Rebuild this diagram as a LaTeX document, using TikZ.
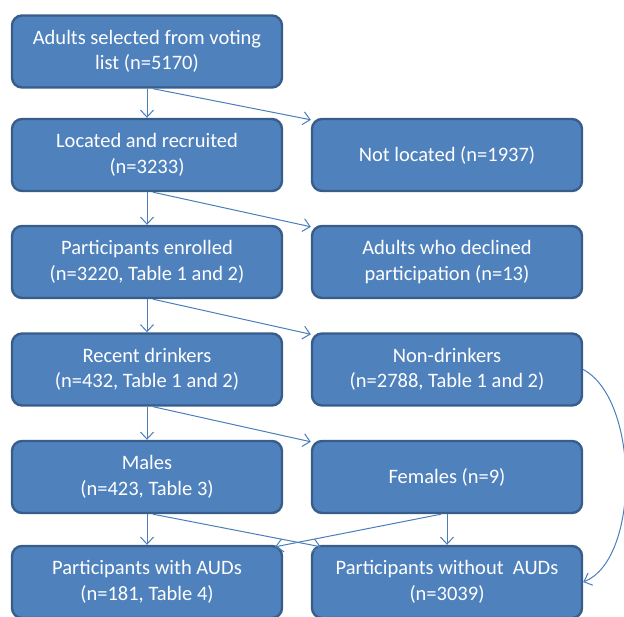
\documentclass[tikz,border=0pt]{standalone}
\usepackage{fontspec}
\setmainfont{Carlito}
\usetikzlibrary{arrows.meta,calc}
\definecolor{boxfill}{HTML}{4F81BD}
\definecolor{boxline}{HTML}{385D8A}
\definecolor{arrowc}{HTML}{4A7EBB}
\begin{document}
\begin{tikzpicture}[x=1pt,y=-1pt,
  box/.style={draw=boxline,fill=boxfill,line width=2.4pt,rounded corners=10pt,
    minimum width=270pt,minimum height=72pt,text=white,align=center,
    font=\fontsize{20.5}{25.5}\selectfont,inner sep=0pt},
  arr/.style={draw=arrowc,line width=1pt,-{Straight Barb[length=7pt,width=13pt]}}]
\useasboundingbox (0,0) rectangle (624,617);
\node[box] (a) at (147,51.5) {Adults selected from voting\\list (n=5170)};
\node[box] (b) at (147,155) {Located and recruited\\(n=3233)};
\node[box] (c) at (447,155) {Not located (n=1937)};
\node[box] (d) at (147,262) {Participants enrolled\\(n=3220, Table 1 and 2)};
\node[box] (e) at (447,262) {Adults who declined\\participation (n=13)};
\node[box] (f) at (147,369.5) {Recent drinkers\\(n=432, Table 1 and 2)};
\node[box] (g) at (447,369.5) {Non-drinkers\\(n=2788, Table 1 and 2)};
\node[box] (h) at (147,477) {Males\\(n=423, Table 3)};
\node[box] (i) at (447,477) {Females (n=9)};
\node[box] (j) at (147,582) {Participants with AUDs\\(n=181, Table 4)};
\node[box] (k) at (447,582) {Participants without~ AUDs\\(n=3039)};
\draw[arr] (a.south) -- (b.north);
\draw[arr] ($(a.south)+(6,0)$) -- ($(c.north west)+(0,2)$);
\draw[arr] (b.south) -- (d.north);
\draw[arr] ($(b.south)+(6,0)$) -- ($(e.north west)+(0,2)$);
\draw[arr] (d.south) -- (f.north);
\draw[arr] ($(d.south)+(6,0)$) -- ($(g.north west)+(0,2)$);
\draw[arr] (f.south) -- (h.north);
\draw[arr] ($(f.south)+(6,0)$) -- ($(i.north west)+(0,2)$);
\draw[arr] (h.south) -- (j.north);
\draw[arr] ($(h.south)+(6,0)$) -- ($(k.north west)+(10,2)$);
\draw[arr] (i.south) -- (k.north);
\draw[arr] ($(i.south)+(-6,0)$) -- ($(j.north east)+(-8,2)$);
\draw[arr] (g.east) .. controls (640,400) and (640,560) .. (k.east);
\end{tikzpicture}
\end{document}
